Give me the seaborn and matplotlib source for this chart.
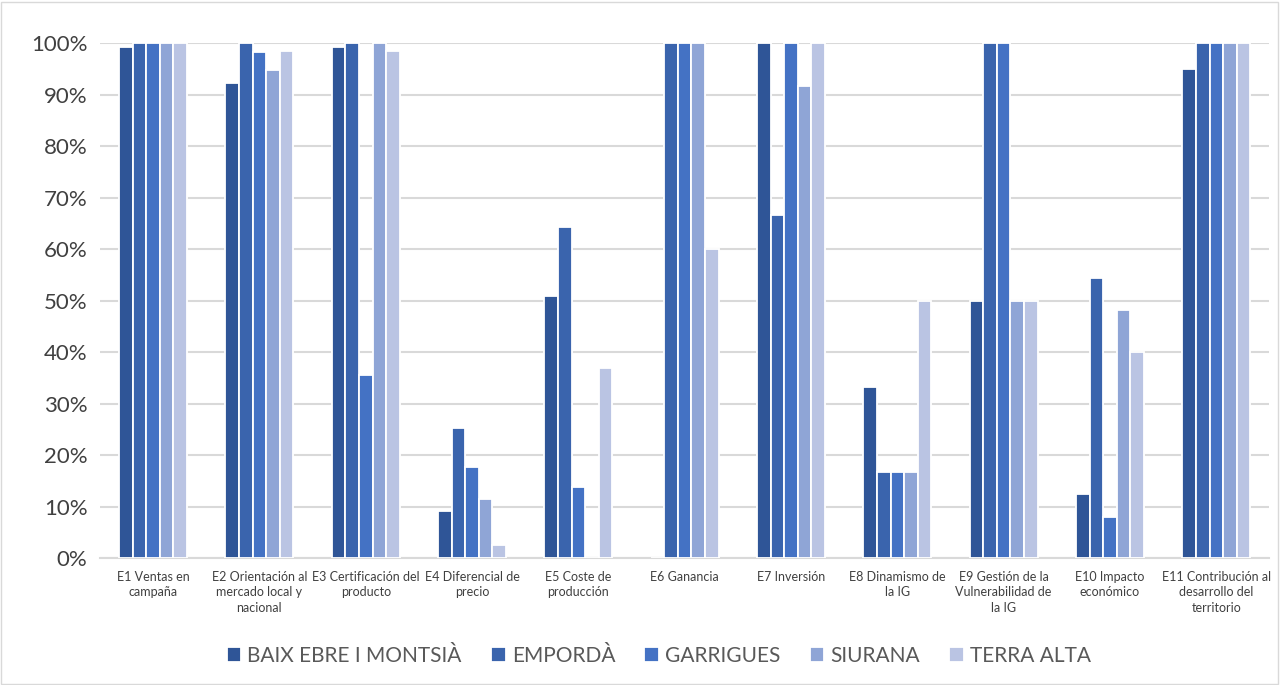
import numpy as np
import pandas as pd
import matplotlib
matplotlib.use("Agg")
import matplotlib.pyplot as plt
import seaborn as sns
from matplotlib.ticker import PercentFormatter

categorias = ["E1 Ventas en\ncampaña", "E2 Orientación al\nmercado local y\nnacional",
              "E3 Certificación del\nproducto", "E4 Diferencial de\nprecio", "E5 Coste de\nproducción",
              "E6 Ganancia", "E7 Inversión", "E8 Dinamismo de\nla IG",
              "E9 Gestión de la\nVulnerabilidad de\nla IG", "E10 Impacto\neconómico",
              "E11 Contribución al\ndesarrollo del\nterritorio"]
zonas = ["BAIX EBRE I MONTSIÀ", "EMPORDÀ", "GARRIGUES", "SIURANA", "TERRA ALTA"]

baix_ebre = [99.3, 92.2, 99.3, 9.1, 50.8, 0.0, 100, 33.3, 50, 12.5, 95.0]
emporda = [100, 100, 100, 25.3, 64.2, 100, 66.7, 16.7, 100, 54.4, 100]
garrigues = [100, 98.2, 35.5, 17.6, 13.7, 100, 100, 16.7, 100, 7.9, 100]
siurana = [100, 94.7, 100, 11.5, 0.0, 100, 91.7, 16.7, 50, 48.2, 100]
terra_alta = [100, 98.5, 98.5, 2.6, 36.9, 60, 100, 50, 50, 40, 100]

colores = ["#2F5597", "#3A64AD", "#4472C4", "#8FA5D6", "#BAC4E3"]

series = [baix_ebre, emporda, garrigues, siurana, terra_alta]
rows = []
for zona, vals in zip(zonas, series):
    for cat, v in zip(categorias, vals):
        rows.append({"cat": cat, "zona": zona, "valor": v})
df = pd.DataFrame(rows)

sns.set_style("white")
plt.rcParams['font.family'] = ['Lato', 'DejaVu Sans']

fig = plt.figure(figsize=(12.81, 6.85), dpi=100)
ax = fig.add_axes([0.078, 0.1854, 0.913, 0.7518])

sns.barplot(data=df, x="cat", y="valor", hue="zona", palette=colores, width=0.64,
            saturation=1, edgecolor="white", linewidth=1.3, ax=ax, zorder=3)

ax.set_ylim(0, 100)
ax.set_yticks(np.arange(0, 101, 10))
ax.yaxis.set_major_formatter(PercentFormatter(decimals=0))
ax.tick_params(axis="y", labelsize=16, colors="#404040", length=0, pad=9)
ax.tick_params(axis="x", labelsize=9, colors="#404040", length=0, pad=9)
for lbl in ax.get_xticklabels():
    lbl.set_linespacing(1.35)
ax.grid(axis="y", color="#D9D9D9", linewidth=1.5, zorder=0)
ax.set_xlabel("")
ax.set_ylabel("")
for s in ["left", "right", "top"]:
    ax.spines[s].set_visible(False)
ax.spines["bottom"].set_color("#D9D9D9")
ax.spines["bottom"].set_linewidth(1.5)

ax.legend(loc="center", bbox_to_anchor=(0.478, -0.19), ncol=5, frameon=False,
          fontsize=15, handlelength=0.7, handleheight=0.7, handletextpad=0.3,
          columnspacing=1.4, labelcolor="#595959")

fig.patches.append(plt.Rectangle((0.001, 0.002), 0.997, 0.995, transform=fig.transFigure,
                                 fill=False, edgecolor="#D9D9D9", linewidth=1))

fig.savefig("out.png", dpi=100)
